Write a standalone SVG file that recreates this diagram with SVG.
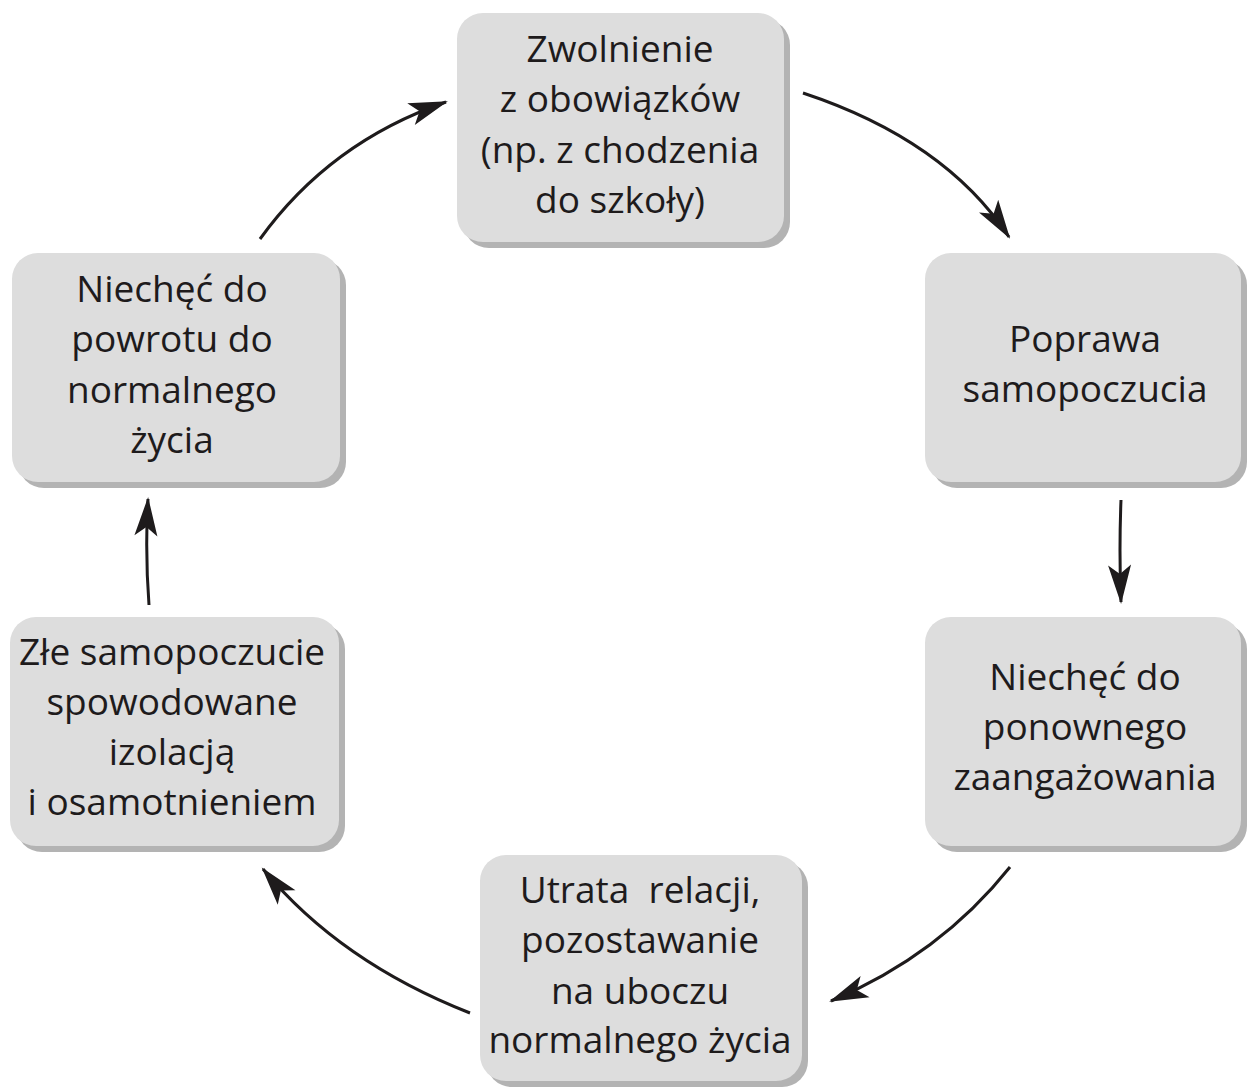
<svg xmlns="http://www.w3.org/2000/svg" width="1248" height="1088" viewBox="0 0 1248 1088">
<defs>
<style>
.box{fill:#dddddd}
.sh{fill:#b3b3b3}
.t{font-family:"Open Sans","Noto Sans","DejaVu Sans",sans-serif;font-size:37px;fill:#1e1b1c;text-anchor:middle}
.c{fill:none;stroke:#1e1b1c;stroke-width:3;marker-end:url(#ah)}
</style>
<marker id="ah" markerUnits="userSpaceOnUse" viewBox="-44 -20 48 40" refX="0" refY="0" markerWidth="48" markerHeight="40" orient="auto">
<path d="M2,0 L-37,-11.5 L-28,0 L-37,11.5 Z" fill="#1e1b1c"/>
</marker>
</defs>
<rect width="1248" height="1088" fill="#ffffff"/>
<g id="connectors">
<path class="c" d="M260,239 Q330,142 446,102"/>
<path class="c" d="M803,93 Q945,140 1009,237"/>
<path class="c" d="M1121,500 Q1119,550 1121,602"/>
<path class="c" d="M1010,867 Q940,955 831,1001"/>
<path class="c" d="M470,1013 Q340,962 263,869"/>
<path class="c" d="M149,605 Q145,552 148,499"/>
</g>
<g id="n1">
<rect class="sh" x="463" y="19" width="327" height="229" rx="26"/>
<rect class="box" x="457" y="13" width="327" height="229" rx="26"/>
<text class="t" x="620" y="62">Zwolnienie</text>
<text class="t" x="620" y="112">z obowiązków</text>
<text class="t" x="620" y="163">(np. z chodzenia</text>
<text class="t" x="620" y="213">do szkoły)</text>
</g>
<g id="n2">
<rect class="sh" x="931" y="259" width="316" height="229" rx="26"/>
<rect class="box" x="925" y="253" width="316" height="229" rx="26"/>
<text class="t" x="1085" y="352">Poprawa</text>
<text class="t" x="1085" y="402">samopoczucia</text>
</g>
<g id="n3">
<rect class="sh" x="931" y="623" width="316" height="229" rx="26"/>
<rect class="box" x="925" y="617" width="316" height="229" rx="26"/>
<text class="t" x="1085" y="690">Niechęć do</text>
<text class="t" x="1085" y="740">ponownego</text>
<text class="t" x="1085" y="790">zaangażowania</text>
</g>
<g id="n4">
<rect class="sh" x="486" y="861" width="322" height="226" rx="26"/>
<rect class="box" x="480" y="855" width="322" height="226" rx="26"/>
<text class="t" x="640" y="903" xml:space="preserve">Utrata  relacji,</text>
<text class="t" x="640" y="953">pozostawanie</text>
<text class="t" x="640" y="1004">na uboczu</text>
<text class="t" x="640" y="1053">normalnego życia</text>
</g>
<g id="n5">
<rect class="sh" x="16" y="623" width="329" height="229" rx="26"/>
<rect class="box" x="10" y="617" width="329" height="229" rx="26"/>
<text class="t" x="172" y="665">Złe samopoczucie</text>
<text class="t" x="172" y="715">spowodowane</text>
<text class="t" x="172" y="765">izolacją</text>
<text class="t" x="172" y="815">i osamotnieniem</text>
</g>
<g id="n6">
<rect class="sh" x="18" y="259" width="328" height="229" rx="26"/>
<rect class="box" x="12" y="253" width="328" height="229" rx="26"/>
<text class="t" x="172" y="302">Niechęć do</text>
<text class="t" x="172" y="352">powrotu do</text>
<text class="t" x="172" y="403">normalnego</text>
<text class="t" x="172" y="453">życia</text>
</g>
</svg>
